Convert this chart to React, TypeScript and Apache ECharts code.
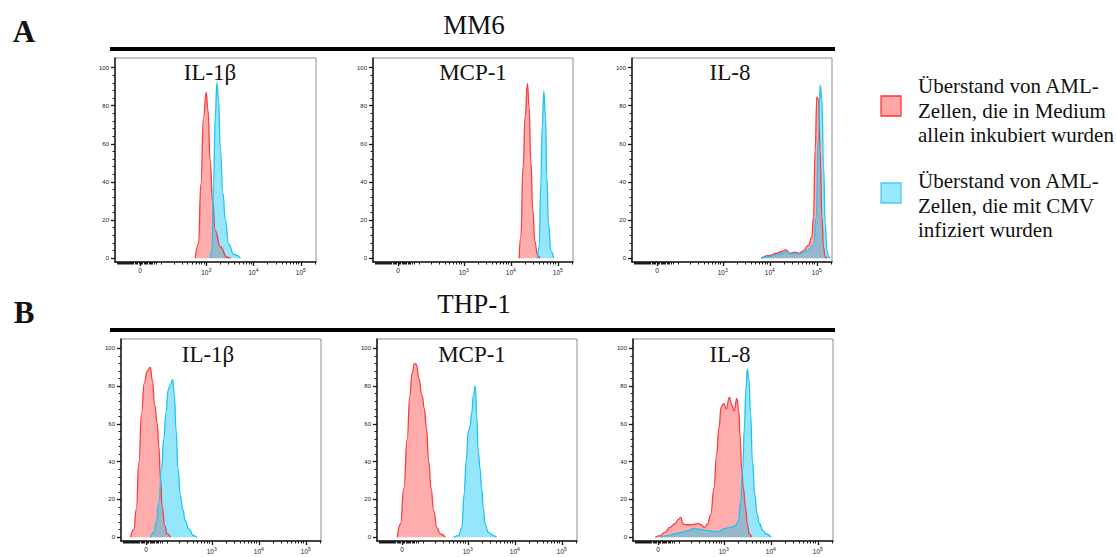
import React, { useEffect, useRef } from "react";
import * as echarts from "echarts";

// ---------- data: [fluorescence intensity, % of max] ----------
const mm6Il1bMedium: [number, number][] = [
  [583, 0], [687, 7.5], [770, 39], [877, 74], [1000, 87], [1085, 78], [1217, 51],
  [1364, 30], [1553, 14.5], [1986, 6], [2754, 0.5], [3240, 0],
];
const mm6Il1bCmv: [number, number][] = [
  [1217, 0], [1320, 4], [1432, 39], [1553, 74], [1686, 92], [1829, 83], [1986, 57],
  [2263, 34], [2535, 20], [2985, 7.5], [3817, 2], [5289, 0],
];
const mm6Mcp1Medium: [number, number][] = [
  [15040, 0], [16320, 11], [18290, 48], [20180, 74], [22630, 91.5], [24550, 79],
  [26650, 51], [29380, 25], [32420, 9], [36920, 1.4], [41400, 0],
];
const mm6Mcp1Cmv: [number, number][] = [
  [36920, 0], [40090, 6], [43470, 39], [46420, 69], [50360, 87.5], [54640, 74],
  [58320, 43], [63250, 18], [70960, 4], [80900, 0],
];
const mm6Il8Medium: [number, number][] = [
  [6627, 0], [10000, 1.4], [13900, 2.6], [17780, 3.5], [22030, 4.4], [26830, 2.6],
  [34340, 3.2], [42560, 2.6], [51790, 4], [66250, 6.7], [78160, 11], [84890, 21.5],
  [92100, 56.6], [100000, 84.6], [108600, 83], [117800, 56.6], [128000, 21.5],
  [138900, 5.8], [150900, 0.5], [163800, 0],
];
const mm6Il8Cmv: [number, number][] = [
  [6627, 0], [10000, 1], [13900, 2], [19310, 2.6], [22760, 3.5], [26830, 2.3],
  [34340, 2.3], [43940, 2.3], [61050, 4], [84890, 6.7], [96760, 21.5], [108600, 65],
  [117800, 90.7], [128000, 83], [138900, 48], [150900, 18], [163800, 4],
  [177800, 0.5], [193100, 0],
];
const thpIl1bMedium: [number, number][] = [
  [-66, 0], [-50, 4], [-39, 15], [-28, 40], [-17, 66], [-7, 81.5], [5, 88], [17, 90],
  [25, 83.5], [36, 69.5], [46, 60.5], [54, 48], [62, 31], [70, 16.5], [85, 6],
  [99, 1.8], [121, 0],
];
const thpIl1bCmv: [number, number][] = [
  [18, 0], [32, 2.6], [42, 8], [54, 18.5], [67, 36], [79, 52], [92, 66], [105, 78],
  [116, 80], [137, 83.5], [151, 75], [165, 57], [184, 36], [208, 22], [234, 15],
  [269, 8.8], [318, 4.4], [408, 0.9], [481, 0],
];
const thpMcp1Medium: [number, number][] = [
  [-18.5, 0], [-5.5, 7], [7.5, 26], [20.7, 52], [31.8, 75], [41.7, 87], [52.2, 92],
  [61.8, 91.5], [73.6, 84], [92.2, 75], [106.7, 68], [120.6, 57.6], [137.4, 40],
  [156.5, 26], [180.8, 14], [215, 5], [255, 1.7], [329, 0],
];
const thpMcp1Cmv: [number, number][] = [
  [498, 0], [635, 0.9], [747, 5], [837, 22.7], [922, 40], [1033, 56], [1120, 59],
  [1215, 66], [1318, 75], [1452, 80], [1549, 64], [1680, 45], [1823, 36.6],
  [1977, 26], [2143, 15.7], [2324, 7], [2734, 2.6], [3485, 0.9], [4100, 0],
];
const thpIl8Medium: [number, number][] = [
  [-10.7, 0], [8.5, 0.9], [28.2, 2.6], [49.5, 5.2], [73.6, 7], [96.2, 9.6],
  [108.8, 10.5], [124.7, 7], [149.5, 6.6], [195, 6.6], [252, 7], [283, 7.3],
  [325, 6.6], [383, 5.2], [450, 7], [527, 12], [619, 26], [703, 43.6], [787, 57.6],
  [880, 69], [1000, 70.7], [1137, 68], [1312, 74], [1492, 70], [1667, 67],
  [1896, 73.6], [2086, 67], [2223, 54], [2410, 36.6], [2610, 26], [2920, 15.7],
  [3162, 7], [3483, 1.7], [3890, 0],
];
const thpIl8Cmv: [number, number][] = [
  [8.5, 0], [42, 0.9], [73.6, 1.7], [113, 2.6], [164, 3.5], [231, 4.7], [298, 4.2],
  [383, 3.8], [487, 3.5], [619, 3], [787, 3], [1000, 4.4], [1377, 5.2], [1750, 6],
  [2054, 8.7], [2297, 19], [2529, 36.6], [2738, 57.6], [2966, 78.5], [3162, 89],
  [3425, 83.8], [3711, 66], [4084, 40], [4571, 22.7], [5109, 12.2], [5808, 7],
  [6813, 3.5], [7993, 1.7], [10160, 0],
];

const xTickValues = [0, 1000, 10000, 100000];
const xMinorTickValues = [
  -110, -100, -95, -90, -85, -80, -75, -70, -65, -60, -55, -50, -45, -40, -35, -30, -25, -20,
  -15, -10, -5, 5, 10, 15, 20, 25, 30, 35, 40, 45, 50, 60, 70,
  100, 200, 300, 400, 500, 600, 700, 800, 900,
  2000, 3000, 4000, 5000, 6000, 7000, 8000, 9000,
  20000, 30000, 40000, 50000, 60000, 70000, 80000, 90000, 200000,
];
const yTickValues = [0, 20, 40, 60, 80, 100];
const yMinorTickValues = [4, 8, 12, 16, 24, 28, 32, 36, 44, 48, 52, 56, 64, 68, 72, 76, 84, 88, 92, 96];

const rowTitles = ["MM6", "THP-1"];
const rowLetters = ["A", "B"];
const markerNames = ["IL-1β", "MCP-1", "IL-8"];
const legendMedium = ["Überstand von AML-", "Zellen, die in Medium", "allein inkubiert wurden"];
const legendCmv = ["Überstand von AML-", "Zellen, die mit CMV", "infiziert wurden"];

// ---------- scale (logicle-like, asinh) ----------
const LN10 = Math.log(10);
const LIN_W = 80;
const toScale = (v: number) => Math.asinh(v / LIN_W) / LN10;
const fromScale = (s: number) => LIN_W * Math.sinh(s * LN10);

const X_MIN = -0.53;
const X_MAX = 3.72;
const Y_MIN = -2;
const Y_MAX = 105;

const RED_LINE = "#ff3b3b";
const RED_FILL = "rgba(255,70,70,0.45)";
const BLUE_LINE = "#1fc3ef";
const BLUE_FILL = "rgba(20,200,245,0.45)";

const SERIF = "'Liberation Serif', 'Times New Roman', serif";
const SANS = "'Liberation Sans', Arial, sans-serif";

type Panel = {
  medium: [number, number][];
  cmv: [number, number][];
  title: string;
  left: number;
  top: number;
  width: number;
  height: number;
  titleX: number;
  titleY: number;
};

const panels: Panel[] = [
  { medium: mm6Il1bMedium, cmv: mm6Il1bCmv, title: markerNames[0], left: 115, top: 58, width: 201, height: 204, titleX: 210, titleY: 72 },
  { medium: mm6Mcp1Medium, cmv: mm6Mcp1Cmv, title: markerNames[1], left: 373, top: 58, width: 200, height: 204, titleX: 473, titleY: 72 },
  { medium: mm6Il8Medium, cmv: mm6Il8Cmv, title: markerNames[2], left: 632, top: 58, width: 200, height: 204, titleX: 730, titleY: 72 },
  { medium: thpIl1bMedium, cmv: thpIl1bCmv, title: markerNames[0], left: 121, top: 339, width: 200, height: 202, titleX: 208, titleY: 354 },
  { medium: thpMcp1Medium, cmv: thpMcp1Cmv, title: markerNames[1], left: 377, top: 339, width: 200, height: 202, titleX: 472, titleY: 354 },
  { medium: thpIl8Medium, cmv: thpIl8Cmv, title: markerNames[2], left: 633, top: 339, width: 200, height: 202, titleX: 730, titleY: 354 },
];

function xLabel(value: number): string {
  const v = fromScale(value);
  if (Math.abs(v) < 1) return "{b|0}";
  const e = Math.round(Math.log10(v));
  return `{b|10}{s|${e}}`;
}

function buildOption(): any {
  const grid: any[] = [];
  const xAxis: any[] = [];
  const yAxis: any[] = [];
  const series: any[] = [];
  const graphic: any[] = [];

  const xMajor = xTickValues.map(toScale);
  const xMinor = xMinorTickValues.map(toScale);

  panels.forEach((p, i) => {
    grid.push({
      left: p.left, top: p.top, width: p.width, height: p.height,
      show: true, borderColor: "#8f8f8f", borderWidth: 1, backgroundColor: "transparent",
    });
    xAxis.push({
      type: "value", gridIndex: i, min: X_MIN, max: X_MAX, position: "bottom",
      axisLine: { show: true, onZero: false, lineStyle: { color: "#1a1a1a", width: 1.5 } },
      axisTick: { show: true, length: 4, customValues: xMajor, lineStyle: { color: "#1a1a1a", width: 1.3 } },
      axisLabel: {
        show: true, customValues: xMajor, margin: 5, formatter: xLabel,
        rich: {
          b: { fontSize: 6.5, color: "#222", fontFamily: SANS },
          s: { fontSize: 5, color: "#222", fontFamily: SANS, padding: [0, 0, 5, 0] },
        },
      },
      splitLine: { show: false },
    });
    xAxis.push({
      type: "value", gridIndex: i, min: X_MIN, max: X_MAX, position: "bottom",
      axisLine: { show: false, onZero: false },
      axisTick: { show: true, length: 2.5, customValues: xMinor, lineStyle: { color: "#1a1a1a", width: 1 } },
      axisLabel: { show: false },
      splitLine: { show: false },
    });
    yAxis.push({
      type: "value", gridIndex: i, min: Y_MIN, max: Y_MAX, position: "left",
      axisLine: { show: true, onZero: false, lineStyle: { color: "#1a1a1a", width: 1.5 } },
      axisTick: { show: true, length: 4, customValues: yTickValues, lineStyle: { color: "#1a1a1a", width: 1.3 } },
      axisLabel: { show: true, customValues: yTickValues, margin: 6, fontSize: 6, color: "#222", fontFamily: SANS },
      splitLine: { show: false },
    });
    yAxis.push({
      type: "value", gridIndex: i, min: Y_MIN, max: Y_MAX, position: "left",
      axisLine: { show: false, onZero: false },
      axisTick: { show: true, length: 2.5, customValues: yMinorTickValues, lineStyle: { color: "#1a1a1a", width: 1 } },
      axisLabel: { show: false },
      splitLine: { show: false },
    });

    const mk = (name: string, data: [number, number][], line: string, fill: string) => ({
      name, type: "line", xAxisIndex: 2 * i, yAxisIndex: 2 * i,
      data: data.map(([v, pct]) => [toScale(v), pct]),
      showSymbol: false, smooth: 0.5, smoothMonotone: "x", clip: true,
      lineStyle: { color: line, width: 1.3 },
      itemStyle: { color: line },
      areaStyle: { color: fill, opacity: 1, origin: 0 },
      silent: true,
    });
    series.push(mk("Medium", p.medium, RED_LINE, RED_FILL));
    series.push(mk("CMV", p.cmv, BLUE_LINE, BLUE_FILL));

    graphic.push({
      type: "text", x: p.titleX, y: p.titleY, z: 10,
      style: {
        text: p.title, fill: "#111", font: `23px ${SERIF}`,
        align: "center", verticalAlign: "middle", textAlign: "center", textVerticalAlign: "middle",
      },
    });
  });

  // row headings and rules
  const rowRuleY = [47, 328];
  const rowTitleY = [25, 304];
  const rowLetterY = [31, 312];
  rowTitles.forEach((t, r) => {
    graphic.push({ type: "rect", shape: { x: 110, y: rowRuleY[r], width: 725, height: 4 }, style: { fill: "#000" } });
    graphic.push({
      type: "text", x: 474, y: rowTitleY[r],
      style: { text: t, fill: "#111", font: `27px ${SERIF}`, align: "center", verticalAlign: "middle", textAlign: "center", textVerticalAlign: "middle" },
    });
    graphic.push({
      type: "text", x: 24, y: rowLetterY[r],
      style: { text: rowLetters[r], fill: "#111", font: `bold 31px ${SERIF}`, align: "center", verticalAlign: "middle", textAlign: "center", textVerticalAlign: "middle" },
    });
  });

  // legend
  const legendBlocks = [
    { lines: legendMedium, box: 96, ys: [86, 110.5, 135], fill: "#ffa6a6", stroke: "#ff3434" },
    { lines: legendCmv, box: 183, ys: [181, 205.5, 230], fill: "#9be7fd", stroke: "#4ccaf0" },
  ];
  legendBlocks.forEach((b) => {
    graphic.push({ type: "rect", shape: { x: 881, y: b.box, width: 20, height: 20 }, style: { fill: b.fill, stroke: b.stroke, lineWidth: 1.3 } });
    b.lines.forEach((ln, k) => {
      graphic.push({
        type: "text", x: 918, y: b.ys[k],
        style: { text: ln, fill: "#111", font: `21px ${SERIF}`, align: "left", verticalAlign: "middle", textAlign: "left", textVerticalAlign: "middle" },
      });
    });
  });

  return {
    animation: false,
    backgroundColor: "#ffffff",
    grid, xAxis, yAxis, series, graphic,
  };
}

export default function App() {
  const ref = useRef<HTMLDivElement>(null);
  useEffect(() => {
    if (!ref.current) return;
    const chart = echarts.init(ref.current, undefined, { renderer: "svg" });
    chart.setOption(buildOption());
    return () => chart.dispose();
  }, []);
  return (
    <div
      ref={ref}
      style={{ position: "fixed", left: 0, top: 0, width: 1116, height: 557, background: "#fff" }}
    />
  );
}
